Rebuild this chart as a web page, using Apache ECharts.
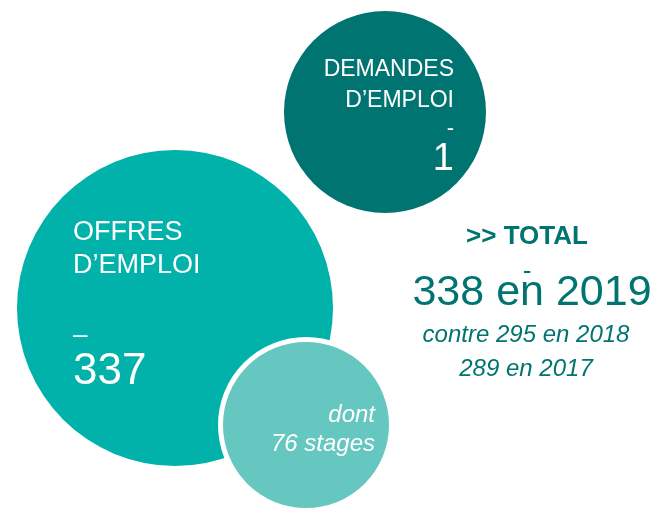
<!DOCTYPE html>
<html>
<head>
<meta charset="utf-8">
<script src="https://cdn.jsdelivr.net/npm/echarts@6/dist/echarts.min.js"></script>
<style>
  html, body { margin: 0; padding: 0; background: #fff; }
  #chart { width: 657px; height: 512px; }
</style>
</head>
<body>
<div id="chart"></div>
<script>
// données
const bubbleNames = ['OFFRES\nD’EMPLOI', 'DEMANDES\nD’EMPLOI', 'dont'];
const bubbleValues = [337, 1, 76];
const bubbleUnits = ['', '', 'stages'];
const totalYears = [2019, 2018, 2017];
const totalValues = [338, 295, 289];

// mise en page (pixels du canevas)
const bubbleX = [175, 385, 306];
const bubbleY = [308, 112, 425];
const bubbleSize = [316, 202, 171];
const bubbleColor = ['#00B2AA', '#007470', '#66C7C0'];

const FONT = '"Liberation Sans", Arial, Helvetica, sans-serif';
const TEAL = '#007470';

let chartDom = document.getElementById('chart');
let myChart = echarts.init(chartDom, null, {renderer: 'canvas'});

// libellés des bulles
const labels = [
  {
    position: [56, 66],
    align: 'left',
    verticalAlign: 'top',
    formatter: '{t|OFFRES}\n{t|D’EMPLOI}\n{gap|}\n{d|–}\n{v|' + bubbleValues[0] + '}',
    rich: {
      t: {fontSize: 27, lineHeight: 33, color: '#fff', fontFamily: FONT, align: 'left'},
      gap: {fontSize: 10, lineHeight: 42, align: 'left'},
      d: {fontSize: 26, lineHeight: 24, color: '#fff', fontFamily: FONT, align: 'left'},
      v: {fontSize: 44, lineHeight: 48, color: '#fff', fontFamily: FONT, align: 'left'}
    }
  },
  {
    position: [170, 43],
    align: 'right',
    verticalAlign: 'top',
    formatter: '{t|DEMANDES}\n{t|D’EMPLOI}\n{d|-}\n{v|' + bubbleValues[1] + '}',
    rich: {
      t: {fontSize: 23, lineHeight: 31, color: '#fff', fontFamily: FONT, align: 'right'},
      d: {fontSize: 22, lineHeight: 25, color: '#fff', fontFamily: FONT, align: 'right'},
      v: {fontSize: 38, lineHeight: 37, color: '#fff', fontFamily: FONT, align: 'right'}
    }
  },
  {
    position: [157, 64],
    align: 'right',
    verticalAlign: 'top',
    formatter: '{s|' + bubbleNames[2] + '}\n{s|' + bubbleValues[2] + ' ' + bubbleUnits[2] + '}',
    rich: {
      s: {fontSize: 24, lineHeight: 29, color: '#fff', fontFamily: FONT, fontStyle: 'italic', align: 'right'}
    }
  }
];

let seriesData = [];
for (let i = 0; i < bubbleValues.length; i++) {
  seriesData.push({
    name: bubbleNames[i],
    value: [bubbleX[i], bubbleY[i], bubbleValues[i]],
    symbolSize: bubbleSize[i],
    itemStyle: i === 2
      ? {color: bubbleColor[i], borderColor: '#fff', borderWidth: 5, opacity: 1}
      : {color: bubbleColor[i], opacity: 1},
    label: Object.assign({show: true}, labels[i])
  });
}

// bloc total
function totalText(text, x, y, size, extra) {
  return {
    type: 'text',
    x: x,
    y: y,
    silent: true,
    style: Object.assign({
      text: text,
      fill: TEAL,
      fontFamily: FONT,
      fontSize: size,
      align: 'center',
      verticalAlign: 'middle'
    }, extra || {})
  };
}

let option = {
  animation: false,
  grid: {left: 0, right: 0, top: 0, bottom: 0},
  xAxis: {type: 'value', min: 0, max: 657, show: false},
  yAxis: {type: 'value', min: 0, max: 512, inverse: true, show: false},
  series: [
    {
      type: 'scatter',
      symbol: 'circle',
      data: seriesData,
      itemStyle: {opacity: 1},
      emphasis: {disabled: true}
    }
  ],
  graphic: [
    totalText('>> TOTAL', 527, 237, 26, {fontWeight: 'bold'}),
    totalText('-', 527, 272, 26),
    totalText(totalValues[0] + ' en ' + totalYears[0], 532, 293, 43),
    totalText('contre ' + totalValues[1] + ' en ' + totalYears[1], 526, 335, 24, {fontStyle: 'italic'}),
    totalText(totalValues[2] + ' en ' + totalYears[2], 526, 369, 24, {fontStyle: 'italic'})
  ]
};

option && myChart.setOption(option);
</script>
</body>
</html>
